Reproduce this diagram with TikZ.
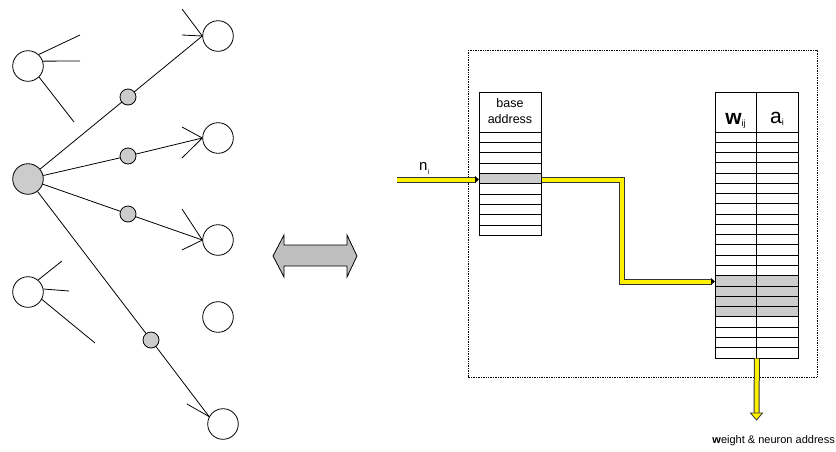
\documentclass[tikz,border=0pt]{standalone}
\usepackage{fontspec}
\setmainfont{Liberation Sans}
\usetikzlibrary{arrows.meta}
\begin{document}
\begin{tikzpicture}[x=1pt,y=-1pt,
  neuron/.style={circle,draw,line width=0.8pt,minimum size=30.6pt,inner sep=0pt,fill=white},
  hub/.style={neuron,fill=black!20},
  synapse/.style={circle,draw,line width=0.8pt,minimum size=16pt,inner sep=0pt,fill=black!20},
  wire/.style={line width=0.8pt},
  pipe/.style={draw=black!80,line width=1pt,double=yellow,double distance=4pt},
  tblline/.style={line width=0.8pt},
  lbl/.style={inner sep=0pt,font=\fontsize{12.5}{15.5}\selectfont}
]
\useasboundingbox (0,0) rectangle (836,451);

% ---------- left network ----------
\node[hub] (big) at (28,179) {};
\node[neuron] (tl) at (28,66) {};
\node[neuron] (ll) at (28,292) {};
\node[neuron] (c1) at (218,36) {};
\node[neuron] (c2) at (218,138) {};
\node[neuron] (c3) at (218,240) {};
\node[neuron] (c5) at (218,317) {};
\node[neuron] (c4) at (223,424) {};

\draw[wire] (big) -- (128,97) -- (c1.west);
\draw[wire] (big) -- (128,156) -- (c2.west);
\draw[wire] (big) -- (128,214) -- (c3.west);
\draw[wire] (big) -- (151,340) -- (c4.152);

\node[synapse] (s1) at (128,97) {};
\node[synapse] (s2) at (128,156) {};
\node[synapse] (s3) at (128,214) {};
\node[synapse] (s4) at (151,340) {};

% arrow barbs
\draw[wire] (182,9) -- (c1.west) -- (182,35);
\draw[wire] (182,127) -- (c2.west) -- (182,158);
\draw[wire] (182,209) -- (c3.west) -- (182,250);
\draw[wire] (187,404) -- (c4.152);

% dangling links
\draw[wire] (tl.47) -- (80,35);
\draw[wire] (tl.18) -- (80,61);
\draw[wire] (tl.-45) -- (74,122);
\draw[wire] (ll.50) -- (62,261);
\draw[wire] (ll.11) -- (69,291);
\draw[wire] (ll.-28) -- (95,343);

% ---------- double arrow ----------
\draw[line width=0.8pt,fill=black!25,line join=miter]
  (273,256) -- (284,235) -- (284,245) -- (347,245) -- (347,235) -- (357,256)
  -- (347,277) -- (347,266) -- (284,266) -- (284,277) -- cycle;

% ---------- right panel ----------
\draw[densely dotted,line width=0.7pt] (468,50) rectangle (817,377);

% base address table
\fill[black!20] (479,173.7) rectangle (541,184);
\node[draw,tblline,anchor=north west,minimum width=62pt,minimum height=143.3pt,inner sep=0pt] (base) at (479,92) {};
\foreach \k in {0,...,9} \draw[tblline] (479,{132+10.33*\k}) -- (541,{132+10.33*\k});
\node[lbl,align=center] (basetxt) at (510,111) {base\\address};

% weight / neuron table
\fill[black!20] (715,276.2) rectangle (798,317.2);
\node[draw,tblline,anchor=north west,minimum width=83pt,minimum height=265.7pt,inner sep=0pt] (wtab) at (715,92) {};
\draw[tblline] (756.5,92) -- (756.5,357.7);
\foreach \k in {0,...,21} \draw[tblline] (715,{132+10.26*\k}) -- (798,{132+10.26*\k});
\node[inner sep=0pt,anchor=base,font=\fontsize{21}{21}\selectfont] (whead) at (735.5,124)
  {\textbf{w}\raisebox{-0.25ex}{\fontsize{9}{9}\selectfont ij}};
\node[inner sep=0pt,anchor=base,font=\fontsize{21}{21}\selectfont] (ahead) at (777,123)
  {a\raisebox{-0.25ex}{\fontsize{9}{9}\selectfont i}};

% yellow pipes
\coordinate (nin) at (397,179.5);
\coordinate (hit) at (715,281.5);
\draw[pipe] (nin) -- ([xshift=-3.5pt]base.west |- nin);
\fill ([xshift=-4pt,yshift=3.5pt]base.west |- nin) -- (base.west |- nin) -- ([xshift=-4pt,yshift=-3.5pt]base.west |- nin) -- cycle;
\draw[pipe,line join=miter] (base.east |- nin) -| (622,281.5) -- ([xshift=-3.5pt]hit);
\fill ([xshift=-4pt,yshift=3.5pt]hit) -- (hit) -- ([xshift=-4pt,yshift=-3.5pt]hit) -- cycle;
\draw[pipe] (wtab.south) -- (756.5,413.5);
\filldraw[fill=yellow,draw=black!80,line width=0.8pt] (750.5,413) -- (762.5,413) -- (756.5,420) -- cycle;

\node[font=\fontsize{15}{15}\selectfont,inner sep=0pt,anchor=base west] (nlbl) at (419,170)
  {n\raisebox{-0.6ex}{\fontsize{7}{7}\selectfont i}};

\node[lbl,font=\fontsize{11}{13}\selectfont,anchor=base east] (outlbl) at (835,443)
  {\textbf{w}eight \& neuron address};
\end{tikzpicture}
\end{document}
